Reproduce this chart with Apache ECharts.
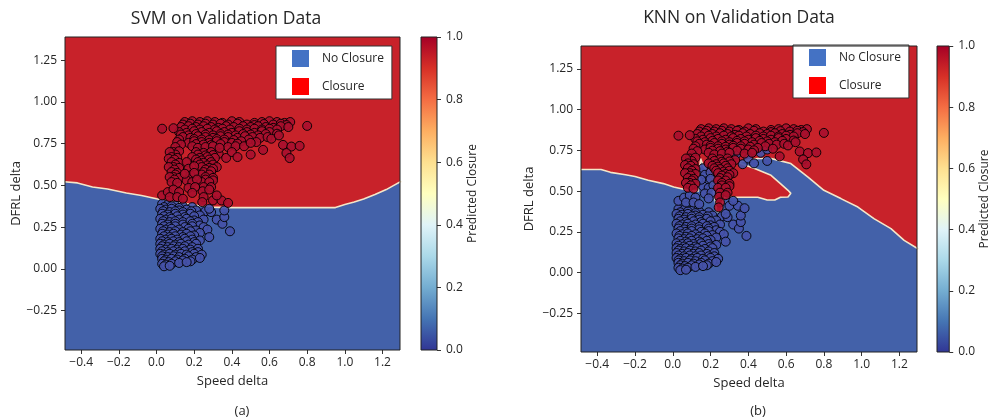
<!DOCTYPE html>
<html><head><meta charset="utf-8">
<script src="https://cdn.jsdelivr.net/npm/echarts@6/dist/echarts.min.js"></script>
<style>html,body{margin:0;padding:0;background:#fff}#c{width:992px;height:419px}</style>
</head><body><div id="c"></div>
<script>
// ---------- data ----------
const xTicks = [-0.4, -0.2, 0, 0.2, 0.4, 0.6, 0.8, 1.0, 1.2];
const yTicks = [-0.25, 0, 0.25, 0.5, 0.75, 1.0, 1.25];
const cbTicks = [0, 0.2, 0.4, 0.6, 0.8, 1.0];
const legendNames = ['No Closure', 'Closure'];
const titles = ['SVM on Validation Data', 'KNN on Validation Data'];
const captions = ['(a)', '(b)'];

// decision boundary (blue below / red above)
const svmBoundary = [[-0.49,0.522],[-0.42,0.515],[-0.34,0.49],[-0.26,0.478],[-0.16,0.455],[-0.08,0.44],[0.0,0.42],[0.07,0.404],[0.15,0.392],[0.22,0.38],[0.30,0.37],[0.37,0.367],[0.6,0.367],[0.8,0.367],[0.95,0.367],[1.0,0.385],[1.05,0.40],[1.1,0.418],[1.16,0.445],[1.22,0.475],[1.26,0.50],[1.30,0.525]];
const knnBoundary = [[-0.49,0.632],[-0.38,0.632],[-0.33,0.615],[-0.25,0.60],[-0.2,0.59],[-0.13,0.566],[-0.05,0.546],[0.005,0.525],[0.058,0.511],[0.10,0.50],[0.135,0.50],[0.14,0.60],[0.147,0.70],[0.16,0.66],[0.19,0.60],[0.21,0.53],[0.22,0.47],[0.228,0.42],[0.232,0.375],[0.255,0.37],[0.262,0.42],[0.27,0.462],[0.35,0.462],[0.45,0.462],[0.50,0.445],[0.54,0.445],[0.57,0.462],[0.61,0.464],[0.625,0.486],[0.61,0.505],[0.57,0.546],[0.52,0.597],[0.43,0.64],[0.345,0.675],[0.40,0.69],[0.45,0.70],[0.52,0.70],[0.555,0.69],[0.625,0.669],[0.716,0.586],[0.80,0.505],[0.89,0.454],[0.98,0.402],[1.065,0.331],[1.155,0.27],[1.225,0.198],[1.30,0.145]];

// validation points predicted "Closure" by both models
const closureBoth = [
[0.15,0.88],[0.19,0.885],[0.23,0.88],[0.27,0.885],[0.31,0.88],[0.35,0.875],[0.40,0.885],[0.44,0.88],[0.52,0.875],[0.56,0.88],[0.60,0.885],[0.64,0.88],[0.68,0.875],[0.71,0.88],
[0.14,0.865],[0.18,0.87],[0.22,0.865],[0.26,0.87],[0.30,0.865],[0.34,0.87],[0.38,0.865],[0.43,0.87],[0.48,0.865],[0.52,0.862],[0.57,0.868],[0.62,0.865],[0.66,0.87],[0.69,0.862],
[0.13,0.85],[0.17,0.855],[0.21,0.85],[0.25,0.855],[0.29,0.85],[0.33,0.845],[0.37,0.855],[0.41,0.85],[0.46,0.855],[0.50,0.85],[0.54,0.855],[0.58,0.85],[0.62,0.845],[0.66,0.855],[0.70,0.85],
[0.15,0.835],[0.19,0.84],[0.23,0.835],[0.27,0.84],[0.31,0.835],[0.35,0.84],[0.39,0.835],[0.44,0.84],[0.48,0.835],[0.52,0.84],[0.56,0.835],[0.60,0.84],[0.64,0.835],
[0.12,0.82],[0.16,0.815],[0.20,0.825],[0.24,0.82],[0.28,0.815],[0.32,0.825],[0.36,0.82],[0.40,0.815],[0.44,0.825],[0.48,0.82],[0.52,0.815],[0.56,0.825],[0.60,0.82],[0.64,0.81],
[0.13,0.805],[0.17,0.80],[0.21,0.808],[0.26,0.805],[0.30,0.80],[0.34,0.808],[0.38,0.805],[0.42,0.80],[0.46,0.808],[0.50,0.805],[0.54,0.80],[0.58,0.808],
[0.14,0.79],[0.18,0.785],[0.22,0.795],[0.26,0.79],[0.30,0.785],[0.34,0.795],[0.38,0.79],[0.43,0.785],[0.47,0.795],[0.51,0.79],[0.55,0.785],[0.59,0.79],
[0.12,0.775],[0.20,0.778],[0.24,0.775],[0.28,0.772],[0.32,0.778],[0.36,0.775],[0.41,0.772],[0.49,0.775],
[0.11,0.76],[0.17,0.755],[0.20,0.765],[0.24,0.76],[0.28,0.755],[0.32,0.765],[0.36,0.76],[0.40,0.755],[0.45,0.765],[0.53,0.76],
[0.13,0.745],[0.21,0.748],[0.25,0.745],[0.29,0.742],[0.34,0.748],[0.43,0.75],
[0.10,0.73],[0.19,0.735],[0.22,0.725],[0.26,0.73],[0.30,0.735],[0.38,0.73],[0.42,0.735],
[0.03,0.84],[0.09,0.843],[0.80,0.857],[0.672,0.743],[0.716,0.733],[0.76,0.737],[0.69,0.694],[0.707,0.664],[0.566,0.713],[0.61,0.78],[0.65,0.80],
[0.09,0.70],[0.12,0.705],[0.21,0.70],[0.25,0.695],[0.29,0.70],[0.33,0.69],
[0.10,0.685],[0.22,0.685],[0.26,0.68],[0.30,0.682],[0.07,0.70],
[0.08,0.67],[0.11,0.665],[0.19,0.67],[0.23,0.665],[0.27,0.67],[0.31,0.665],[0.065,0.66],
[0.095,0.655],[0.21,0.655],[0.24,0.65],[0.28,0.655],
[0.08,0.64],[0.12,0.635],[0.22,0.64],[0.25,0.635],[0.29,0.64],
[0.10,0.625],[0.23,0.625],[0.27,0.62],[0.30,0.625],
[0.09,0.61],[0.12,0.605],[0.24,0.61],[0.28,0.605],[0.32,0.61],[0.065,0.61],
[0.095,0.595],[0.26,0.595],[0.30,0.60],
[0.08,0.58],[0.11,0.575],[0.25,0.58],[0.29,0.585],
[0.10,0.565],[0.24,0.565],[0.28,0.565],
[0.09,0.55],[0.12,0.545],[0.26,0.55],[0.30,0.545],[0.07,0.55],
[0.095,0.535],[0.26,0.535],[0.30,0.53],
[0.08,0.52],[0.11,0.515],[0.24,0.52],[0.28,0.52],
[0.25,0.49],[0.29,0.49],[0.245,0.465],[0.28,0.475],[0.25,0.43],[0.243,0.40]
];
// predicted "Closure" by SVM but "No Closure" by KNN
const svmClosureKnnNo = [
[0.16,0.64],[0.17,0.60],[0.20,0.615],[0.18,0.56],[0.20,0.575],[0.16,0.53],[0.19,0.52],[0.215,0.535],[0.17,0.485],[0.205,0.49],[0.19,0.455],[0.15,0.57],
[0.335,0.725],[0.37,0.665],[0.40,0.70],[0.43,0.67],[0.465,0.735],[0.50,0.755],[0.50,0.685],
[0.03,0.44],[0.06,0.46],[0.09,0.475],[0.12,0.46],[0.07,0.43],[0.11,0.43],[0.14,0.42],
[0.30,0.41],[0.345,0.41],[0.38,0.395],[0.32,0.44]
];
// predicted "No Closure" by both models
const noClosureBoth = [
[0.03,0.39],[0.06,0.385],[0.10,0.38],[0.14,0.375],[0.19,0.37],
[0.04,0.37],[0.08,0.375],[0.12,0.365],
[0.02,0.36],[0.05,0.355],[0.08,0.36],[0.12,0.35],[0.16,0.355],[0.21,0.35],[0.26,0.345],
[0.035,0.345],[0.07,0.34],[0.10,0.345],[0.14,0.34],[0.185,0.345],
[0.03,0.33],[0.06,0.325],[0.10,0.33],[0.14,0.325],[0.18,0.33],[0.23,0.32],
[0.04,0.315],[0.07,0.31],[0.11,0.315],[0.15,0.31],[0.20,0.315],
[0.02,0.30],[0.05,0.295],[0.08,0.30],[0.12,0.295],[0.16,0.30],[0.20,0.29],[0.25,0.295],[0.32,0.295],
[0.035,0.285],[0.07,0.28],[0.10,0.285],[0.14,0.28],[0.18,0.285],[0.22,0.28],
[0.03,0.27],[0.06,0.265],[0.10,0.27],[0.14,0.265],[0.19,0.27],[0.23,0.26],[0.35,0.27],
[0.04,0.255],[0.07,0.25],[0.10,0.255],[0.15,0.25],[0.19,0.255],[0.25,0.25],
[0.02,0.24],[0.05,0.235],[0.08,0.24],[0.12,0.235],[0.17,0.24],[0.21,0.23],[0.27,0.235],
[0.035,0.225],[0.07,0.22],[0.10,0.225],[0.14,0.22],[0.18,0.225],[0.23,0.215],
[0.03,0.21],[0.06,0.205],[0.09,0.21],[0.13,0.205],[0.16,0.21],[0.20,0.20],[0.28,0.19],
[0.04,0.195],[0.07,0.19],[0.10,0.195],[0.14,0.19],[0.18,0.195],
[0.02,0.18],[0.05,0.175],[0.08,0.18],[0.11,0.175],[0.15,0.18],[0.19,0.175],[0.23,0.17],
[0.03,0.165],[0.06,0.16],[0.09,0.165],[0.12,0.16],[0.16,0.165],[0.20,0.16],
[0.02,0.15],[0.04,0.145],[0.07,0.15],[0.10,0.145],[0.13,0.15],[0.17,0.145],[0.21,0.15],
[0.03,0.135],[0.06,0.13],[0.09,0.135],[0.12,0.13],[0.15,0.135],[0.19,0.13],
[0.02,0.12],[0.05,0.115],[0.08,0.12],[0.11,0.115],[0.14,0.12],[0.18,0.115],[0.22,0.12],
[0.03,0.105],[0.06,0.10],[0.09,0.105],[0.12,0.10],[0.15,0.105],[0.19,0.10],[0.22,0.10],
[0.02,0.09],[0.04,0.085],[0.07,0.09],[0.10,0.085],[0.13,0.09],[0.16,0.085],[0.20,0.09],[0.24,0.085],
[0.03,0.075],[0.06,0.07],[0.09,0.075],[0.12,0.07],[0.17,0.075],[0.21,0.07],
[0.03,0.06],[0.05,0.055],[0.08,0.06],[0.11,0.055],[0.15,0.06],[0.19,0.055],[0.23,0.065],
[0.04,0.045],[0.065,0.04],[0.10,0.045],[0.14,0.05],[0.18,0.045],
[0.03,0.03],[0.05,0.025],[0.08,0.03],[0.12,0.035],[0.16,0.04],
[0.04,0.015],[0.07,0.018],
[0.39,0.225],[0.36,0.31],[0.36,0.35],[0.29,0.34],[0.28,0.36]
];

// ---------- styling ----------
const X_MIN = -0.486, X_MAX = 1.293, Y_MIN = -0.487, Y_MAX = 1.39;
const FONT = "'Open Sans', 'Noto Sans', sans-serif";
const TXT = '#262626';
const RED_REGION = '#c8222a', BLUE_REGION = '#4361a9';
const RED_PT = '#a8102e', BLUE_PT = '#4652a8';
const BOUNDARY_COLOR = '#f4e6c8';
const cmap = ['#a50026','#d73027','#f46d43','#fdae61','#fee090','#ffffbf','#e0f3f8','#abd9e9','#74add1','#4575b4','#313695'];
const grids = [
  {left:65, top:37, width:335, height:313},
  {left:581, top:46, width:336, height:306},
  {left:421, top:37, width:16, height:313},
  {left:937, top:46, width:16, height:306}
];
const fmt = (v, d) => v.toFixed(d).replace('-', '\u2212');

const chart = echarts.init(document.getElementById('c'), null, {renderer:'canvas'});

function mainX(gi){
  return {type:'value', gridIndex:gi, min:X_MIN, max:X_MAX, name:'Speed delta', nameLocation:'middle', nameGap:25,
    nameTextStyle:{fontSize:13, color:TXT, fontFamily:FONT},
    axisLine:{show:false, onZero:false}, splitLine:{show:false},
    axisTick:{show:true, length:4, lineStyle:{color:'#333'}, customValues:xTicks},
    axisLabel:{customValues:xTicks, formatter:v=>fmt(v,1), fontSize:12, color:TXT, fontFamily:FONT, margin:7}};
}
function mainY(gi, gap){
  return {type:'value', gridIndex:gi, min:Y_MIN, max:Y_MAX, name:'DFRL delta', nameLocation:'middle', nameGap:gap, nameRotate:90,
    nameTextStyle:{fontSize:13, color:TXT, fontFamily:FONT},
    axisLine:{show:false, onZero:false}, splitLine:{show:false},
    axisTick:{show:true, length:4, lineStyle:{color:'#333'}, customValues:yTicks},
    axisLabel:{customValues:yTicks, formatter:v=>fmt(v,2), fontSize:12, color:TXT, fontFamily:FONT, margin:8}};
}
function cbX(gi){ return {type:'value', gridIndex:gi, min:0, max:1, show:false}; }
function cbY(gi, gap){
  return {type:'value', gridIndex:gi, min:0, max:1, position:'right', name:'Predicted Closure', nameLocation:'middle', nameGap:gap, nameRotate:90,
    nameTextStyle:{fontSize:12, color:TXT, fontFamily:FONT},
    axisLine:{show:false, onZero:false}, splitLine:{show:false},
    axisTick:{show:true, length:4, lineStyle:{color:'#333'}, customValues:cbTicks},
    axisLabel:{customValues:cbTicks, formatter:v=>v.toFixed(1), fontSize:12, color:TXT, fontFamily:FONT, margin:9}};
}
function regionSeries(idx, boundary, above, color){
  return {type:'custom', xAxisIndex:idx, yAxisIndex:idx, silent:true, clip:true, z:1, animation:false, data:[[0,0]],
    renderItem:(params, api)=>{
      const pts = boundary.map(p=>api.coord(p));
      const yEdge = above ? Y_MAX + 0.3 : Y_MIN - 0.3;
      pts.push(api.coord([boundary[boundary.length-1][0], yEdge]));
      pts.push(api.coord([boundary[0][0], yEdge]));
      return {type:'polygon', shape:{points:pts}, style:{fill:color}};
    }};
}
function boundaryLine(idx, boundary){
  return {type:'line', xAxisIndex:idx, yAxisIndex:idx, data:boundary, symbol:'none', silent:true, clip:true, z:2, animation:false,
    lineStyle:{color:BOUNDARY_COLOR, width:1.6}};
}
function points(idx, name, data, color){
  return {type:'scatter', name, xAxisIndex:idx, yAxisIndex:idx, data, symbolSize:9, z:3, animation:false,
    itemStyle:{color, borderColor:'#000', borderWidth:1, opacity:0.9}};
}
function colorbar(idx){
  return {type:'custom', xAxisIndex:idx, yAxisIndex:idx, silent:true, z:1, animation:false, data:[[0,0]],
    renderItem:(params, api)=>{
      const a = api.coord([0,1]), b = api.coord([1,0]);
      const stops = cmap.map((c,i)=>({offset:i/(cmap.length-1), color:c}));
      return {type:'rect', shape:{x:a[0], y:a[1], width:b[0]-a[0], height:b[1]-a[1]},
        style:{fill:new echarts.graphic.LinearGradient(0,0,0,1,stops)}};
    }};
}
function legendBox(left, top){
  return {left, top, orient:'vertical', selectedMode:false, backgroundColor:'#fff', borderColor:'#333', borderWidth:1,
    padding:[4,8,4,16], itemWidth:17, itemHeight:17, itemGap:11, icon:'rect',
    textStyle:{fontSize:12, color:TXT, fontFamily:FONT, padding:[0,0,0,8]},
    data:[{name:legendNames[0], itemStyle:{color:'#4472c4', borderWidth:0, opacity:1}},
          {name:legendNames[1], itemStyle:{color:'#ff0000', borderWidth:0, opacity:1}}]};
}
function label(text, x, y, size){
  return {type:'text', x, y, silent:true, style:{text, font:size+'px '+FONT, fill:TXT,
    textAlign:'center', textVerticalAlign:'middle', align:'center', verticalAlign:'middle'}};
}

const option = {
  animation:false,
  textStyle:{fontFamily:FONT},
  grid: grids.map(g=>Object.assign({show:true, z:10, backgroundColor:'transparent', borderColor:'#222', borderWidth:1, containLabel:false}, g)),
  xAxis:[mainX(0), mainX(1), cbX(2), cbX(3)],
  yAxis:[mainY(0,39), mainY(1,45), cbY(2,30), cbY(3,28)],
  legend:[legendBox(276,46), legendBox(793,45)],
  graphic:[label(titles[0],226,19,17.5), label(titles[1],739,18,17.5), label(captions[0],242,411,13), label(captions[1],758,411,13)],
  series:[
    regionSeries(0, svmBoundary, false, BLUE_REGION),
    regionSeries(0, svmBoundary, true, RED_REGION),
    boundaryLine(0, svmBoundary),
    points(0, legendNames[0], noClosureBoth, BLUE_PT),
    points(0, legendNames[1], closureBoth.concat(svmClosureKnnNo), RED_PT),
    regionSeries(1, knnBoundary, false, BLUE_REGION),
    regionSeries(1, knnBoundary, true, RED_REGION),
    boundaryLine(1, knnBoundary),
    points(1, legendNames[0], noClosureBoth.concat(svmClosureKnnNo), BLUE_PT),
    points(1, legendNames[1], closureBoth, RED_PT),
    colorbar(2),
    colorbar(3)
  ]
};
chart.setOption(option);
</script></body></html>
